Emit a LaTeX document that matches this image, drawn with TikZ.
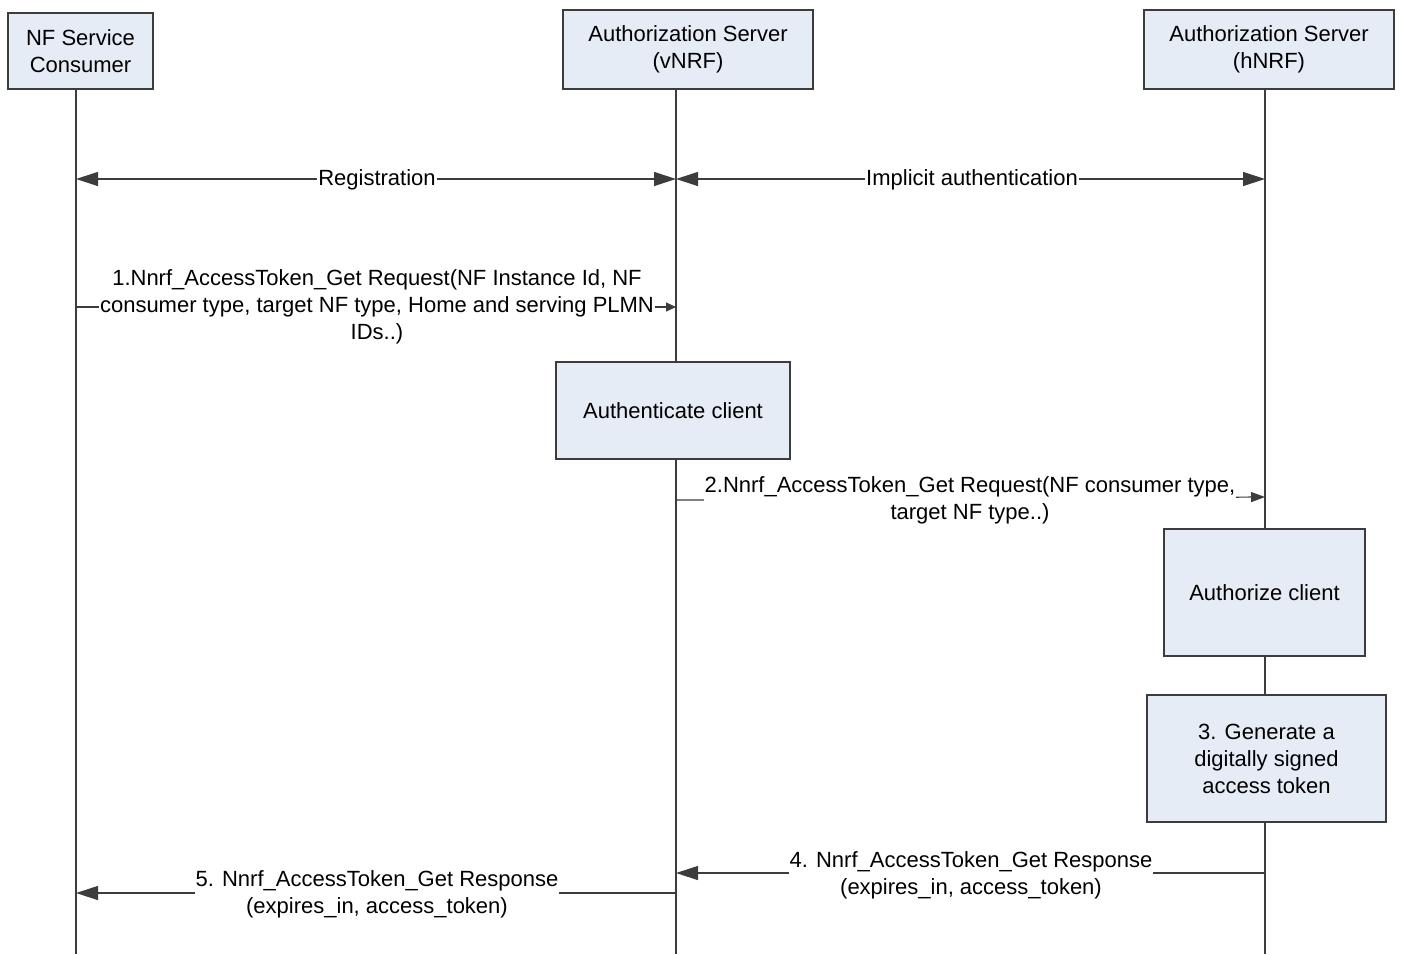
\documentclass[tikz,border=0pt]{standalone}
\usepackage{fontspec}
\setmainfont{Liberation Sans}
\usetikzlibrary{arrows.meta}
\definecolor{boxfill}{RGB}{230,236,246}
\definecolor{linegray}{RGB}{60,60,60}
\begin{document}
\begin{tikzpicture}[x=0.5pt,y=-0.5pt,
  every node/.style={font=\fontsize{11}{13.5}\selectfont, text=black},
  box/.style={draw=linegray, fill=boxfill, align=center, inner sep=0pt, line width=0.6pt},
  life/.style={draw=linegray, line width=0.6pt},
  msg/.style={draw=linegray, line width=0.6pt, -{Triangle[length=11pt,width=7pt]}},
  smsg/.style={draw=linegray, line width=0.6pt, -{Triangle[length=7pt,width=5pt]}},
  tmsg/.style={draw=linegray, line width=0.6pt, -{Triangle[length=5pt,width=4.5pt]}},
  dmsg/.style={draw=linegray, line width=0.6pt, {Triangle[length=11pt,width=7pt]}-{Triangle[length=11pt,width=7pt]}},
  lbl/.style={fill=white, inner sep=0.5pt, align=center}]
\useasboundingbox (0,0) rectangle (1401,954);
% lifelines
\coordinate (a0) at (76,89);  \coordinate (a1) at (76,954);
\coordinate (b0) at (676,89); \coordinate (b1) at (676,954);
\coordinate (c0) at (1265,89); \coordinate (c1) at (1265,954);
\draw[life] (a0) -- (a1);
\draw[life] (b0) -- (b1);
\draw[life] (c0) -- (c1);
% header boxes
\node[box, minimum width=72.5pt, minimum height=38pt] (nfc) at (80.5,51) {NF Service\\Consumer};
\node[box, minimum width=125pt, minimum height=39.5pt] (vnrf) at (688,49.5) {Authorization Server\\(vNRF)};
\node[box, minimum width=125pt, minimum height=39.5pt] (hnrf) at (1269,49.5) {Authorization Server\\(hNRF)};
% process boxes
\node[box, minimum width=117pt, minimum height=48.5pt] (auth) at (673,410.5) {Authenticate client};
\node[box, minimum width=100.5pt, minimum height=63.5pt] (authz) at (1264.5,592.5) {Authorize client};
\node[box, minimum width=119.5pt, minimum height=63.5pt] (gen) at (1266.5,758.5) {3. Generate a\\digitally signed\\access token};
% registration
\coordinate (r1) at (76,179); \coordinate (r2) at (676,179);
\draw[dmsg] (r1) -- (r2);
\node[lbl] (reg) at (377,180) {Registration};
\coordinate (i1) at (676,179); \coordinate (i2) at (1265,179);
\draw[dmsg] (i1) -- (i2);
\node[lbl] (imp) at (972,180) {Implicit authentication};
% message 1
\coordinate (m1a) at (76,307); \coordinate (m1b) at (676,307);
\draw[tmsg] (m1a) -- (m1b);
\node[lbl] (m1) at (377,307) {1.Nnrf\_AccessToken\_Get Request(NF Instance Id, NF\\consumer type, target NF type, Home and serving PLMN\\IDs..)};
% message 2
\coordinate (m2a) at (676,500); \coordinate (m2b) at (1265,497);
\draw[smsg] (m2a) -- (695,500) -- (m2b);
\node[lbl] (m2) at (970,500) {2.Nnrf\_AccessToken\_Get Request(NF consumer type,\\target NF type..)};
% message 4
\coordinate (m4a) at (1265,873); \coordinate (m4b) at (676,873);
\draw[msg] (m4a) -- (m4b);
\node[lbl] (m4) at (971,875) {4. Nnrf\_AccessToken\_Get Response\\(expires\_in, access\_token)};
% message 5
\coordinate (m5a) at (676,893); \coordinate (m5b) at (76,893);
\draw[msg] (m5a) -- (m5b);
\node[lbl] (m5) at (377,894) {5. Nnrf\_AccessToken\_Get Response\\(expires\_in, access\_token)};
\end{tikzpicture}
\end{document}
